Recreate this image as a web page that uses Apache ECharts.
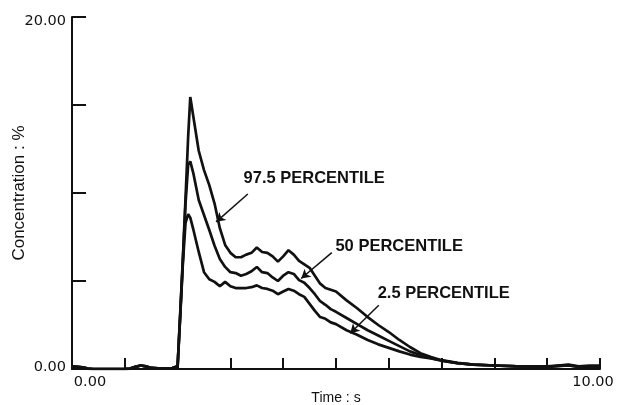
<!DOCTYPE html>
<html>
<head>
<meta charset="utf-8">
<script src="https://cdn.jsdelivr.net/npm/echarts@6/dist/echarts.min.js"></script>
<style>
html,body{margin:0;padding:0;background:#fff;}
#chart{width:619px;height:405px;}
</style>
</head>
<body>
<div id="chart"></div>
<script>
// Time (s)
var times = [0, 0.2, 0.3, 0.4, 0.6, 0.8, 1.0, 1.1, 1.2, 1.3, 1.4, 1.5, 1.7, 1.9, 2.0, 2.05, 2.1, 2.15, 2.2, 2.24,
  2.3, 2.4, 2.5, 2.6, 2.7, 2.8, 2.9, 3.0, 3.1, 3.2, 3.3, 3.4, 3.5, 3.6, 3.7, 3.8, 3.9, 4.0, 4.1, 4.2, 4.3, 4.4,
  4.5, 4.6, 4.7, 4.8, 4.9, 5.0, 5.2, 5.4, 5.6, 5.8, 6.0, 6.2, 6.4, 6.6, 6.8, 7.0, 7.3, 7.6, 8.0, 8.4, 8.8,
  9.0, 9.2, 9.4, 9.6, 9.8, 10.0];
// 97.5 percentile concentration (%)
var p975 = [0.15, 0.1, 0.02, 0, 0, 0, 0, 0.02, 0.12, 0.2, 0.15, 0.06, 0.02, 0.05, 0.15, 3.2, 6.3, 9.7, 13.2, 15.45,
  14.3, 12.4, 11.3, 10.45, 9.4, 8.0, 7.05, 6.6, 6.35, 6.35, 6.5, 6.6, 6.9, 6.65, 6.6, 6.4, 6.1, 6.4, 6.75, 6.5, 6.15, 5.95,
  5.75, 5.3, 4.85, 4.6, 4.5, 4.4, 3.9, 3.45, 2.95, 2.5, 2.1, 1.65, 1.25, 0.9, 0.68, 0.5, 0.35, 0.25, 0.2, 0.17, 0.15,
  0.15, 0.2, 0.25, 0.15, 0.2, 0.2];
// 50 percentile concentration (%)
var p50 = [0.15, 0.1, 0.02, 0, 0, 0, 0, 0.02, 0.12, 0.2, 0.15, 0.06, 0.02, 0.05, 0.15, 3.1, 6.2, 9.4, 11.6, 11.8,
  11.1, 9.6, 8.75, 7.9, 7.0, 6.25, 5.8, 5.5, 5.45, 5.3, 5.4, 5.55, 5.8, 5.5, 5.45, 5.2, 5.0, 5.3, 5.5, 5.4, 5.05, 4.9,
  4.6, 4.25, 3.85, 3.65, 3.4, 3.25, 2.9, 2.55, 2.2, 1.9, 1.6, 1.3, 1.0, 0.8, 0.62, 0.48, 0.33, 0.25, 0.2, 0.15, 0.15,
  0.12, 0.18, 0.22, 0.12, 0.15, 0.15];
// 2.5 percentile concentration (%)
var p25 = [0.15, 0.1, 0.02, 0, 0, 0, 0, 0.02, 0.12, 0.2, 0.15, 0.06, 0.02, 0.05, 0.15, 3.0, 6.0, 8.3, 8.8, 8.6,
  7.9, 6.65, 5.5, 5.1, 4.95, 4.7, 4.95, 4.7, 4.6, 4.6, 4.6, 4.65, 4.75, 4.6, 4.55, 4.45, 4.25, 4.4, 4.55, 4.45, 4.25, 4.1,
  3.7, 3.3, 2.95, 2.85, 2.65, 2.55, 2.2, 1.95, 1.65, 1.4, 1.2, 1.0, 0.82, 0.68, 0.6, 0.47, 0.33, 0.25, 0.2, 0.15, 0.13,
  0.12, 0.16, 0.2, 0.12, 0.14, 0.14];
// Annotation labels and arrows (data coordinates: [time, concentration])
var labelNames = ['97.5 PERCENTILE', '50 PERCENTILE', '2.5 PERCENTILE'];
var labelAnchors = [[3.24, 10.82], [4.98, 6.95], [5.78, 4.3]];
var arrowStarts = [[3.33, 9.94], [4.92, 6.61], [5.81, 3.62]];
var arrowEnds = [[2.73, 8.36], [4.34, 5.14], [5.27, 2.03]];
// Axis tick labels
var xTickLabels = {0: '0.00', 10: '10.00'};
var yTickLabels = {0: '0.00', 20: '20.00'};

var seriesValues = [p975, p50, p25];
var ink = '#111';

var chart = echarts.init(document.getElementById('chart'), null, {renderer: 'canvas'});
var series = seriesValues.map(function (vals, i) {
  return {
    type: 'line',
    name: labelNames[i],
    data: times.map(function (t, j) { return [t, vals[j]]; }),
    showSymbol: false,
    symbol: 'none',
    lineStyle: {color: ink, width: 2.7},
    z: 3,
    animation: false,
    markLine: {
      silent: true,
      animation: false,
      symbol: ['none', 'arrow'],
      symbolSize: [8, 9],
      lineStyle: {color: ink, width: 1.5, type: 'solid'},
      label: {show: false},
      data: [[{coord: arrowStarts[i]}, {coord: arrowEnds[i]}]]
    },
    markPoint: {
      silent: true,
      animation: false,
      symbol: 'circle',
      symbolSize: 1,
      itemStyle: {color: 'rgba(0,0,0,0)'},
      label: {
        show: true,
        position: 'right',
        distance: 0,
        color: ink,
        fontFamily: 'Liberation Sans',
        fontWeight: 'bold',
        fontSize: 16.5,
        formatter: labelNames[i]
      },
      data: [{coord: labelAnchors[i]}]
    }
  };
});

chart.setOption({
  animation: false,
  backgroundColor: '#fff',
  grid: {left: 72, right: 19, top: 17, bottom: 36, containLabel: false, outerBoundsMode: 'none'},
  xAxis: {
    type: 'value',
    min: 0, max: 10, interval: 1,
    name: 'Time : s',
    nameLocation: 'middle',
    nameGap: 22,
    nameMoveOverlap: false,
    nameTextStyle: {color: ink, fontFamily: 'Liberation Sans', fontSize: 14},
    axisLine: {show: true, onZero: false, lineStyle: {color: ink, width: 2}},
    axisTick: {show: true, inside: true, length: 11, lineStyle: {color: ink, width: 2}},
    splitLine: {show: false},
    axisLabel: {
      show: true, margin: 6, color: ink,
      fontFamily: 'DejaVu Sans', fontSize: 14.5,
      formatter: function (v) {
        if (v === 0) return '{a|' + xTickLabels[0] + '}';
        if (v === 10) return '{b|' + xTickLabels[10] + '}';
        return '';
      },
      rich: {
        a: {fontFamily: 'DejaVu Sans', fontSize: 14.5, color: ink, padding: [0, 0, 0, 36]},
        b: {fontFamily: 'DejaVu Sans', fontSize: 14.5, color: ink, padding: [0, 14, 0, 0]}
      }
    }
  },
  yAxis: {
    type: 'value',
    min: 0, max: 20, interval: 5,
    name: 'Concentration : %',
    nameLocation: 'middle',
    nameGap: 44,
    nameMoveOverlap: false,
    nameTextStyle: {color: ink, fontFamily: 'Liberation Sans', fontSize: 17},
    axisLine: {show: true, onZero: false, lineStyle: {color: ink, width: 2}},
    axisTick: {show: true, inside: true, length: 14, lineStyle: {color: ink, width: 2}},
    splitLine: {show: false},
    axisLabel: {
      show: true, margin: 6, color: ink,
      fontFamily: 'DejaVu Sans', fontSize: 14.5,
      formatter: function (v) {
        if (v === 20) return '{t|' + yTickLabels[20] + '}';
        if (v === 0) return '{z|' + yTickLabels[0] + '}';
        return '';
      },
      rich: {
        t: {fontFamily: 'DejaVu Sans', fontSize: 14.5, color: ink, padding: [9, 0, 0, 0]},
        z: {fontFamily: 'DejaVu Sans', fontSize: 14.5, color: ink, padding: [0, 0, 4, 0]}
      }
    }
  },
  series: series
});
</script>
</body>
</html>
